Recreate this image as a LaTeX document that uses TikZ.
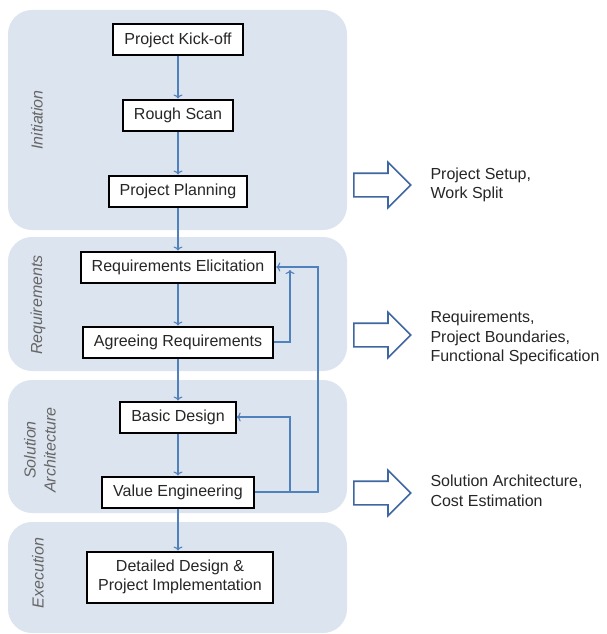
\documentclass[tikz,border=0pt]{standalone}
\usepackage{fontspec}
\setmainfont{Liberation Sans}
\usetikzlibrary{shapes.arrows,arrows.meta}

\definecolor{panelblue}{RGB}{220,228,239}
\definecolor{flowblue}{RGB}{79,129,189}
\definecolor{outblue}{RGB}{62,102,160}
\definecolor{textgray}{RGB}{38,38,38}

\tikzset{
  phase/.style={fill=panelblue, rounded corners=24pt},
  stepbox/.style={draw=black, line width=2pt, fill=white, inner xsep=11pt,
    minimum height=31pt, text=textgray, align=center,
    font=\fontsize{16}{19}\selectfont},
  flow/.style={color=flowblue, line width=1.1pt, -{To[length=4pt,width=9pt]}},
  phaselabel/.style={rotate=90, align=center, text=gray!80!black,
    font=\fontsize{16}{20}\selectfont\itshape},
  result/.style={single arrow, draw=outblue, line width=1.6pt, fill=white,
    inner sep=11pt, minimum height=57pt, single arrow head extend=11pt,
    anchor=tail},
  resulttext/.style={anchor=west, align=left, text=textgray,
    font=\fontsize{16}{19.5}\selectfont},
}

\begin{document}
\begin{tikzpicture}[%
      x=1pt, y=-1pt,
      ]
      \useasboundingbox (0,0) rectangle (606,634);

      % phases
      \fill [phase] (8,10) rectangle (347,230);
      \fill [phase] (8,237) rectangle (347,371);
      \fill [phase] (8,380) rectangle (347,513);
      \fill [phase] (8,522) rectangle (347,633);

      \node [phaselabel] (lbinit) at (37,120) {Initiation};
      \node [phaselabel] (lbreq) at (38,305) {Requirements};
      \node [phaselabel] (lbsol) at (40,450) {Solution\\Architecture};
      \node [phaselabel] (lbexec) at (38,573) {Execution};

      % steps
      \node [stepbox] (kickoff) at (178,40) {Project Kick-off};
      \node [stepbox] (scan) at (178,115) {Rough Scan};
      \node [stepbox] (planning) at (178,191) {Project Planning};
      \node [stepbox] (elicit) at (178,267) {Requirements Elicitation};
      \node [stepbox] (agree) at (178,342) {Agreeing Requirements};
      \node [stepbox] (basic) at (178,417) {Basic Design};
      \node [stepbox] (value) at (178,492) {Value Engineering};
      \node [stepbox, minimum height=51pt] (detail) at (180,577) {Detailed Design \&\\Project Implementation};

      \draw [flow] (kickoff) -- (scan);
      \draw [flow] (scan) -- (planning);
      \draw [flow] (planning) -- (elicit);
      \draw [flow] (elicit) -- (agree);
      \draw [flow] (agree) -- (basic);
      \draw [flow] (basic) -- (value);
      \draw [flow] (value.south) -- (value.south |- detail.north);

      % feedback loops
      \coordinate (agreeup) at (290,270);
      \coordinate (loopout) at (318,492);
      \coordinate (loopmid) at (290,492);
      \draw [flow] (agree.east) -| (agreeup);
      \draw [flow] (value.east) -- (loopout) |- (elicit.east);
      \draw [flow] (loopmid) |- (basic.east);

      % results
      \node [result] (outinit) at (353,185) {};
      \node [result] (outreq) at (353,335) {};
      \node [result] (outsol) at (353,493) {};

      \node [resulttext] (txtinit) at (427,185) {Project Setup,\\Work Split};
      \node [resulttext] (txtreq) at (427,338) {Requirements,\\Project Boundaries,\\Functional Specification};
      \node [resulttext] (txtsol) at (427,491) {Solution Architecture,\\Cost Estimation};
      \end{tikzpicture}
\end{document}
